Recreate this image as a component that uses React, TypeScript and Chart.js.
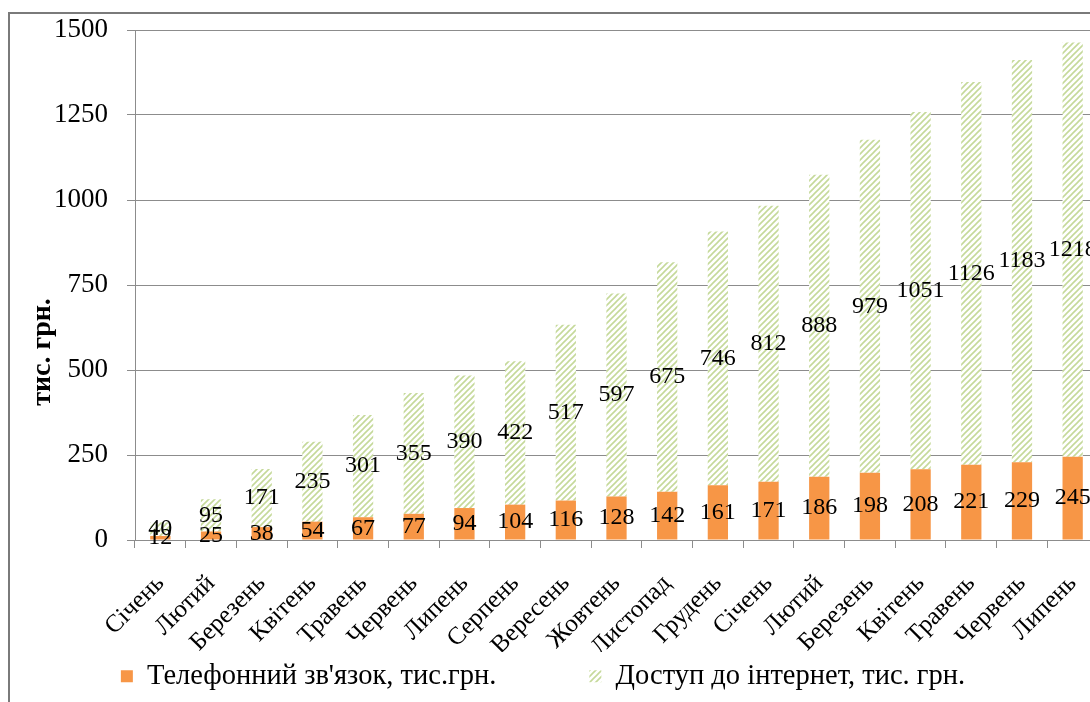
import React, { useEffect, useRef } from "react";
import { Chart, registerables } from "chart.js";

Chart.register(...registerables);

const categories = [
  "Січень", "Лютий", "Березень", "Квітень", "Травень", "Червень", "Липень",
  "Серпень", "Вересень", "Жовтень", "Листопад", "Грудень",
  "Січень", "Лютий", "Березень", "Квітень", "Травень", "Червень", "Липень",
];
const phoneValues = [12, 25, 38, 54, 67, 77, 94, 104, 116, 128, 142, 161, 171, 186, 198, 208, 221, 229, 245];
const internetValues = [40, 95, 171, 235, 301, 355, 390, 422, 517, 597, 675, 746, 812, 888, 979, 1051, 1126, 1183, 1218];
const phoneLabel = "Телефонний зв'язок, тис.грн.";
const internetLabel = "Доступ до інтернет, тис. грн.";
const yTitle = "тис. грн.";
const yMin = 0;
const yMax = 1500;
const yStep = 250;

const SERIF = '"Liberation Serif", "Times New Roman", serif';

function makePattern(): CanvasPattern | string {
  const c = document.createElement("canvas");
  c.width = 6;
  c.height = 6;
  const g = c.getContext("2d");
  if (!g) return "#c6d99a";
  g.fillStyle = "#ffffff";
  g.fillRect(0, 0, 6, 6);
  g.strokeStyle = "#c5d99a";
  g.lineWidth = 1.6;
  g.beginPath();
  g.moveTo(0, 6); g.lineTo(6, 0);
  g.moveTo(-3, 3); g.lineTo(3, -3);
  g.moveTo(3, 9); g.lineTo(9, 3);
  g.stroke();
  return g.createPattern(c, "repeat") || "#c6d99a";
}

const valueLabels = {
  id: "valueLabels",
  afterDatasetsDraw(chart: any) {
    const ctx = chart.ctx;
    ctx.save();
    ctx.font = `24px ${SERIF}`;
    ctx.fillStyle = "#000";
    ctx.textAlign = "center";
    ctx.textBaseline = "middle";
    chart.data.datasets.forEach((ds: any, i: number) => {
      const meta = chart.getDatasetMeta(i);
      meta.data.forEach((el: any, j: number) => {
        const p = el.getCenterPoint();
        ctx.fillText(String(ds.data[j]), p.x, p.y);
      });
    });
    ctx.restore();
  },
};

const yTitlePlugin = {
  id: "yTitlePlugin",
  afterDraw(chart: any) {
    const ctx = chart.ctx;
    ctx.save();
    ctx.font = `bold 28px ${SERIF}`;
    ctx.fillStyle = "#000";
    ctx.textAlign = "center";
    ctx.textBaseline = "middle";
    ctx.translate(33, 338);
    ctx.rotate(-Math.PI / 2);
    ctx.fillText(yTitle, 0, 0);
    ctx.restore();
  },
};

const legendShift = {
  id: "legendShift",
  afterLayout(chart: any) {
    const lg = chart.legend;
    if (lg) {
      lg.left -= 11;
      lg.right -= 11;
      lg.top = 555;
    }
  },
};

export default function App() {
  const ref = useRef<HTMLCanvasElement | null>(null);
  useEffect(() => {
    if (!ref.current) return;
    const pattern = makePattern();
    const chart = new Chart(ref.current, {
      type: "bar",
      data: {
        labels: categories,
        datasets: [
          {
            label: phoneLabel,
            data: phoneValues,
            backgroundColor: "#f79646",
            barPercentage: 0.4,
            categoryPercentage: 1,
          },
          {
            label: internetLabel,
            data: internetValues,
            backgroundColor: pattern as any,
            barPercentage: 0.4,
            categoryPercentage: 1,
          },
        ],
      },
      options: {
        animation: false,
        responsive: false,
        devicePixelRatio: 1,
        layout: { padding: { left: 0, right: 12, top: 16, bottom: 0 } },
        plugins: {
          tooltip: { enabled: false },
          legend: {
            position: "bottom",
            maxHeight: 50,
            labels: {
              boxWidth: 12,
              boxHeight: 12,
              padding: 93,
              color: "#000",
              font: { family: SERIF, size: 28.5 },
            },
          },
        },
        scales: {
          x: {
            stacked: true,
            afterFit: (s: any) => {
              s.height = 112;
              s.paddingLeft = 0;
              s.paddingRight = 0;
            },
            grid: { drawOnChartArea: false, drawTicks: true, tickLength: 8, color: "#8c8c8c" },
            border: { color: "#8c8c8c" },
            ticks: {
              color: "#000",
              maxRotation: 45,
              minRotation: 45,
              autoSkip: false,
              padding: 21,
              font: { family: SERIF, size: 25 },
            },
          },
          y: {
            stacked: true,
            min: yMin,
            max: yMax,
            afterFit: (s: any) => {
              s.width = 125;
              s.paddingTop = 14;
              s.paddingBottom = 14;
            },
            grid: { color: "#8c8c8c", tickLength: 8 },
            border: { color: "#8c8c8c" },
            ticks: {
              stepSize: yStep,
              color: "#000",
              padding: 19,
              font: { family: SERIF, size: 27 },
              callback: (v: any) => String(v),
            },
          },
        },
      },
      plugins: [valueLabels, yTitlePlugin, legendShift],
    });
    return () => chart.destroy();
  }, []);

  return (
    <div
      style={{
        position: "fixed",
        left: 8,
        top: 12,
        width: 1082,
        height: 690,
        overflow: "hidden",
        borderLeft: "2px solid #7a7a7a",
        borderTop: "2px solid #7a7a7a",
        boxSizing: "border-box",
        background: "#fff",
      }}
    >
      <canvas ref={ref} width={1100} height={688} style={{ display: "block", width: 1100, height: 688 }} />
    </div>
  );
}
